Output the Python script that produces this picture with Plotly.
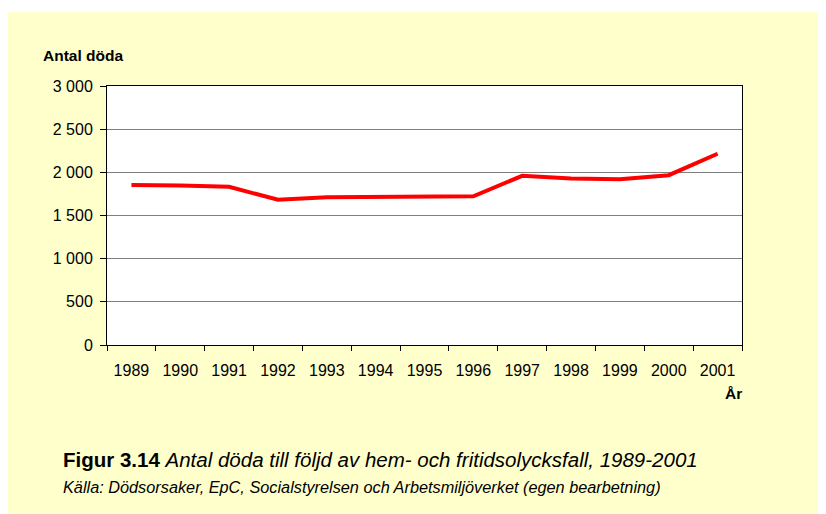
import plotly.graph_objects as go

years = ["1989", "1990", "1991", "1992", "1993", "1994", "1995", "1996",
         "1997", "1998", "1999", "2000", "2001"]
deaths = [1852, 1848, 1832, 1682, 1710, 1714, 1707, 1722, 1960, 1928, 1919, 1967, 2215]
ytick_vals = [0, 500, 1000, 1500, 2000, 2500, 3000]
ytick_text = ["0", "500", "1 000", "1 500", "2 000", "2 500", "3 000"]

FONT = "Liberation Sans, Arial, sans-serif"

fig = go.Figure()
fig.add_trace(go.Scatter(x=years, y=deaths, mode="lines",
                         line=dict(color="#FF0000", width=4), hoverinfo="x+y"))

OFF = 8  # page body margin
W, H = 826 - OFF, 514 - OFF
L, R, T, B = 107 - OFF, 742 - OFF, 86 - OFF, 345 - OFF


def px(x):
    return (x - OFF - L) / (R - L)


def py(y):
    return (B - (y - OFF)) / (B - T)


fig.update_layout(
    width=W, height=H,
    margin=dict(l=L, r=W - R, t=T, b=H - B),
    paper_bgcolor="white",
    plot_bgcolor="white",
    showlegend=False,
    font=dict(family=FONT, size=16, color="black"),
    xaxis=dict(type="category", range=[-0.5, len(years) - 0.5],
               showgrid=False, showline=True, linecolor="black",
               linewidth=1, mirror=True, ticks="outside", ticklen=5, tickcolor="black",
               tickson="boundaries", tickfont=dict(size=16), ticklabelstandoff=11),
    yaxis=dict(range=[0, 3000], tickvals=ytick_vals, ticktext=ytick_text,
               showgrid=True, gridcolor="#808080", gridwidth=1,
               showline=True, linecolor="black", linewidth=1, mirror=True,
               ticks="outside", ticklen=6, tickcolor="black", zeroline=False,
               tickfont=dict(size=16), ticklabelstandoff=4),
    shapes=[
        dict(type="rect", xref="paper", yref="paper", layer="below",
             x0=px(7), x1=px(826), y0=py(514), y1=py(12),
             fillcolor="#FFFFCC", line=dict(width=0)),
        dict(type="rect", xref="paper", yref="paper", layer="below",
             x0=0, x1=1, y0=0, y1=1, fillcolor="white", line=dict(width=0)),
    ],
    annotations=[
        dict(text="<b>Antal döda</b>", xref="paper", yref="paper",
             x=px(41), y=py(55), xanchor="left", yanchor="middle",
             showarrow=False, font=dict(size=15.5)),
        dict(text="<b>År</b>", xref="paper", yref="paper",
             x=px(744), y=py(393), xanchor="right", yanchor="middle",
             showarrow=False, font=dict(size=15.5)),
        dict(text="<b>Figur 3.14</b> <i>Antal döda till följd av hem- och fritidsolycksfall, 1989-2001</i>",
             xref="paper", yref="paper",
             x=px(61), y=py(459), xanchor="left", yanchor="middle",
             showarrow=False, font=dict(size=20.5)),
        dict(text="<i>Källa: Dödsorsaker, EpC, Socialstyrelsen och Arbetsmiljöverket (egen bearbetning)</i>",
             xref="paper", yref="paper",
             x=px(61), y=py(487), xanchor="left", yanchor="middle",
             showarrow=False, font=dict(size=16.3)),
    ],
)

fig.write_html("out.html")
